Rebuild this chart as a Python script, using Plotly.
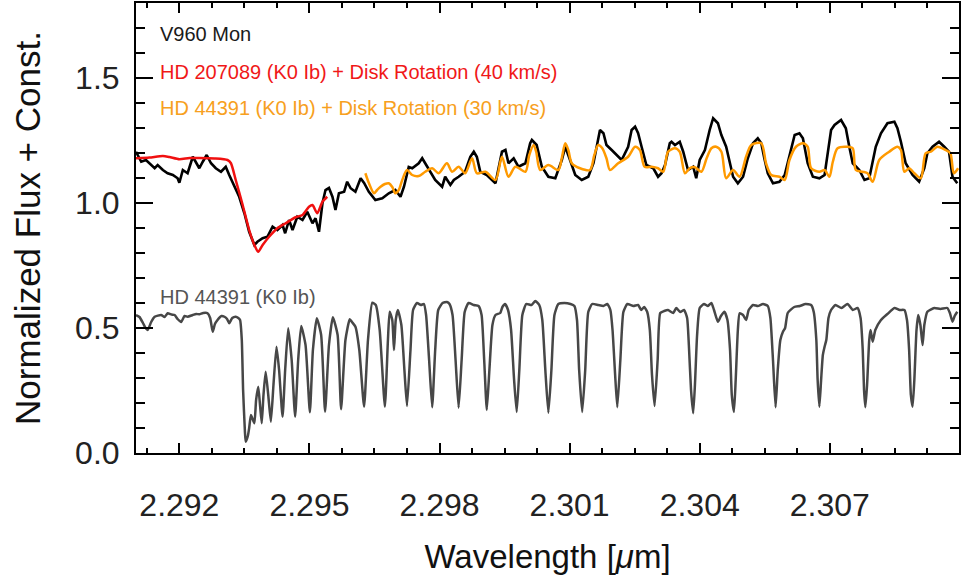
import plotly.graph_objects as go

# ---- V960 Mon (observed) ----
v960_wave = [2.29100, 2.29112, 2.29123, 2.29131, 2.29143, 2.29150, 2.29162, 2.29173, 2.29185, 2.29196,
             2.29200, 2.29208, 2.29219, 2.29231, 2.29238, 2.29246, 2.29254, 2.29263, 2.29273, 2.29284,
             2.29296, 2.29307, 2.29315, 2.29327, 2.29338, 2.29350, 2.29361, 2.29373, 2.29380, 2.29392,
             2.29403, 2.29415, 2.29426, 2.29438, 2.29444, 2.29453, 2.29461, 2.29472, 2.29484, 2.29495,
             2.29507, 2.29514, 2.29522, 2.29530, 2.29537, 2.29545, 2.29553, 2.29560, 2.29568, 2.29580,
             2.29587, 2.29595, 2.29606, 2.29618, 2.29626, 2.29637, 2.29652, 2.29668, 2.29683, 2.29698,
             2.29710, 2.29718, 2.29729, 2.29737, 2.29752, 2.29760, 2.29767, 2.29779, 2.29790, 2.29806,
             2.29813, 2.29825, 2.29833, 2.29844, 2.29859, 2.29871, 2.29879, 2.29886, 2.29894, 2.29909,
             2.29929, 2.29944, 2.29952, 2.29959, 2.29971, 2.29982, 2.29998, 2.30009, 2.30013, 2.30024,
             2.30036, 2.30051, 2.30067, 2.30082, 2.30090, 2.30101, 2.30113, 2.30128, 2.30143, 2.30155,
             2.30170, 2.30178, 2.30185, 2.30197, 2.30208, 2.30220, 2.30235, 2.30243, 2.30251, 2.30258,
             2.30266, 2.30277, 2.30293, 2.30304, 2.30312, 2.30320, 2.30331, 2.30335, 2.30343, 2.30354,
             2.30362, 2.30373, 2.30385, 2.30392, 2.30400, 2.30412, 2.30423, 2.30431, 2.30442, 2.30450,
             2.30461, 2.30469, 2.30477, 2.30488, 2.30500, 2.30511, 2.30523, 2.30534, 2.30542, 2.30549,
             2.30557, 2.30569, 2.30584, 2.30596, 2.30611, 2.30619, 2.30630, 2.30638, 2.30649, 2.30661,
             2.30676, 2.30688, 2.30703, 2.30711, 2.30726, 2.30737, 2.30745, 2.30753, 2.30768, 2.30780,
             2.30791, 2.30806, 2.30818, 2.30833, 2.30849, 2.30856, 2.30864, 2.30875, 2.30891, 2.30906,
             2.30918, 2.30925, 2.30937, 2.30952, 2.30964, 2.30975, 2.30983, 2.30994]
v960_flux = [1.205, 1.165, 1.172, 1.159, 1.139, 1.152, 1.132, 1.119, 1.112, 1.099,
             1.081, 1.132, 1.119, 1.185, 1.165, 1.139, 1.165, 1.192, 1.159, 1.139,
             1.125, 1.145, 1.112, 1.065, 1.025, 0.959, 0.885, 0.832, 0.845, 0.859,
             0.865, 0.905, 0.892, 0.912, 0.879, 0.932, 0.892, 0.945, 0.932, 0.965,
             0.919, 0.939, 0.885, 0.999, 1.052, 1.060, 1.025, 0.972, 1.039, 1.045,
             1.085, 1.059, 1.045, 1.099, 1.080, 1.045, 1.012, 1.019, 1.039, 1.052,
             1.025, 1.065, 1.144, 1.139, 1.159, 1.179, 1.159, 1.125, 1.092, 1.065,
             1.105, 1.072, 1.092, 1.105, 1.125, 1.185, 1.205, 1.185, 1.125, 1.112,
             1.079, 1.205, 1.212, 1.159, 1.179, 1.145, 1.159, 1.239, 1.252, 1.232,
             1.145, 1.105, 1.099, 1.172, 1.225, 1.172, 1.112, 1.092, 1.105, 1.159,
             1.292, 1.279, 1.232, 1.212, 1.192, 1.172, 1.225, 1.292, 1.305, 1.279,
             1.225, 1.152, 1.139, 1.105, 1.119, 1.152, 1.239, 1.245, 1.232, 1.245,
             1.205, 1.132, 1.145, 1.099, 1.172, 1.212, 1.292, 1.339, 1.319, 1.272,
             1.225, 1.159, 1.105, 1.079, 1.105, 1.179, 1.239, 1.259, 1.239, 1.179,
             1.119, 1.079, 1.085, 1.112, 1.225, 1.272, 1.279, 1.259, 1.159, 1.105,
             1.099, 1.112, 1.292, 1.312, 1.332, 1.299, 1.225, 1.159, 1.132, 1.092,
             1.099, 1.225, 1.279, 1.319, 1.325, 1.299, 1.245, 1.159, 1.112, 1.085,
             1.139, 1.199, 1.225, 1.245, 1.225, 1.205, 1.105, 1.079]

# ---- HD 207089 (K0 Ib) + disk rotation 40 km/s ----
hd207_wave = [2.29100, 2.29131, 2.29162, 2.29177, 2.29200, 2.29223, 2.29246, 2.29281, 2.29311, 2.29319,
              2.29330, 2.29346, 2.29361, 2.29373, 2.29382, 2.29392, 2.29407, 2.29426, 2.29445, 2.29468,
              2.29484, 2.29499, 2.29507, 2.29518, 2.29530, 2.29541]
hd207_flux = [1.179, 1.182, 1.188, 1.184, 1.175, 1.180, 1.180, 1.178, 1.172, 1.159,
              1.092, 0.992, 0.892, 0.832, 0.805, 0.832, 0.865, 0.899, 0.919, 0.943,
              0.952, 0.985, 0.992, 0.959, 1.005, 1.025]

# ---- HD 44391 (K0 Ib) + disk rotation 30 km/s ----
hd44_rot_wave = [2.29629, 2.29637, 2.29649, 2.29656, 2.29664, 2.29674, 2.29683, 2.29691, 2.29698, 2.29706,
                 2.29714, 2.29725, 2.29737, 2.29752, 2.29767, 2.29783, 2.29798, 2.29817, 2.29829, 2.29844,
                 2.29859, 2.29875, 2.29886, 2.29906, 2.29929, 2.29944, 2.29959, 2.29975, 2.29998, 2.30007,
                 2.30017, 2.30023, 2.30032, 2.30051, 2.30074, 2.30082, 2.30090, 2.30097, 2.30105, 2.30124,
                 2.30147, 2.30157, 2.30166, 2.30175, 2.30185, 2.30193, 2.30212, 2.30235, 2.30251, 2.30262,
                 2.30273, 2.30289, 2.30304, 2.30316, 2.30327, 2.30343, 2.30354, 2.30366, 2.30377, 2.30389,
                 2.30404, 2.30416, 2.30427, 2.30438, 2.30450, 2.30461, 2.30477, 2.30492, 2.30507, 2.30519,
                 2.30542, 2.30553, 2.30565, 2.30584, 2.30596, 2.30607, 2.30622, 2.30638, 2.30649, 2.30657,
                 2.30676, 2.30688, 2.30699, 2.30707, 2.30718, 2.30741, 2.30753, 2.30760, 2.30776, 2.30787,
                 2.30799, 2.30814, 2.30837, 2.30856, 2.30864, 2.30872, 2.30883, 2.30895, 2.30910, 2.30921,
                 2.30933, 2.30948, 2.30967, 2.30978, 2.30986, 2.30996]
hd44_rot_flux = [1.119, 1.080, 1.039, 1.052, 1.065, 1.076, 1.079, 1.064, 1.039, 1.052,
                 1.092, 1.132, 1.112, 1.108, 1.125, 1.139, 1.119, 1.159, 1.125, 1.145,
                 1.119, 1.179, 1.119, 1.125, 1.092, 1.185, 1.105, 1.145, 1.125, 1.192,
                 1.232, 1.204, 1.132, 1.152, 1.132, 1.180, 1.239, 1.212, 1.159, 1.139,
                 1.132, 1.192, 1.232, 1.220, 1.179, 1.132, 1.159, 1.185, 1.225, 1.212,
                 1.145, 1.145, 1.139, 1.125, 1.205, 1.219, 1.205, 1.119, 1.139, 1.143,
                 1.125, 1.179, 1.219, 1.225, 1.205, 1.099, 1.132, 1.105, 1.185, 1.232,
                 1.239, 1.159, 1.112, 1.105, 1.092, 1.172, 1.225, 1.239, 1.225, 1.139,
                 1.125, 1.132, 1.105, 1.165, 1.219, 1.225, 1.219, 1.132, 1.125, 1.119,
                 1.085, 1.172, 1.205, 1.225, 1.212, 1.125, 1.139, 1.119, 1.099, 1.199,
                 1.205, 1.225, 1.212, 1.199, 1.119, 1.139]

# ---- HD 44391 (K0 Ib) template, offset ----
hd44_wave = [2.29100, 2.29108, 2.29116, 2.29122, 2.29127, 2.29135, 2.29143, 2.29158, 2.29166, 2.29173,
             2.29182, 2.29189, 2.29196, 2.29204, 2.29212, 2.29219, 2.29231, 2.29239, 2.29246, 2.29255,
             2.29265, 2.29271, 2.29277, 2.29282, 2.29288, 2.29297, 2.29304, 2.29310, 2.29315, 2.29322,
             2.29330, 2.29336, 2.29340, 2.29344, 2.29347, 2.29351, 2.29353, 2.29358, 2.29361, 2.29365,
             2.29368, 2.29373, 2.29377, 2.29382, 2.29386, 2.29390, 2.29394, 2.29399, 2.29405, 2.29411,
             2.29417, 2.29424, 2.29430, 2.29438, 2.29444, 2.29451, 2.29459, 2.29467, 2.29474, 2.29481,
             2.29491, 2.29501, 2.29508, 2.29517, 2.29527, 2.29536, 2.29545, 2.29554, 2.29565, 2.29573,
             2.29583, 2.29593, 2.29598, 2.29606, 2.29615, 2.29626, 2.29635, 2.29645, 2.29653, 2.29662,
             2.29674, 2.29681, 2.29685, 2.29691, 2.29695, 2.29699, 2.29704, 2.29712, 2.29719, 2.29725,
             2.29733, 2.29739, 2.29748, 2.29757, 2.29764, 2.29769, 2.29776, 2.29783, 2.29790, 2.29797,
             2.29807, 2.29817, 2.29823, 2.29830, 2.29837, 2.29844, 2.29851, 2.29858, 2.29867, 2.29879,
             2.29890, 2.29897, 2.29903, 2.29909, 2.29915, 2.29922, 2.29929, 2.29940, 2.29945, 2.29951,
             2.29958, 2.29965, 2.29972, 2.29978, 2.29984, 2.29991, 2.30000, 2.30012, 2.30021, 2.30030,
             2.30037, 2.30044, 2.30051, 2.30058, 2.30065, 2.30074, 2.30088, 2.30102, 2.30111, 2.30117,
             2.30122, 2.30129, 2.30136, 2.30143, 2.30152, 2.30166, 2.30178, 2.30187, 2.30194, 2.30199,
             2.30205, 2.30210, 2.30217, 2.30224, 2.30233, 2.30247, 2.30258, 2.30265, 2.30272, 2.30279,
             2.30285, 2.30290, 2.30296, 2.30303, 2.30309, 2.30318, 2.30327, 2.30339, 2.30346, 2.30355,
             2.30364, 2.30371, 2.30375, 2.30380, 2.30385, 2.30389, 2.30394, 2.30400, 2.30410, 2.30419,
             2.30427, 2.30433, 2.30442, 2.30449, 2.30457, 2.30464, 2.30470, 2.30474, 2.30479, 2.30483,
             2.30488, 2.30492, 2.30500, 2.30507, 2.30513, 2.30523, 2.30534, 2.30546, 2.30557, 2.30563,
             2.30569, 2.30575, 2.30580, 2.30586, 2.30592, 2.30597, 2.30603, 2.30618, 2.30631, 2.30644,
             2.30657, 2.30663, 2.30669, 2.30672, 2.30676, 2.30680, 2.30684, 2.30688, 2.30692, 2.30697,
             2.30703, 2.30713, 2.30727, 2.30741, 2.30753, 2.30764, 2.30771, 2.30776, 2.30779, 2.30782,
             2.30786, 2.30791, 2.30794, 2.30799, 2.30805, 2.30818, 2.30833, 2.30849, 2.30861, 2.30872,
             2.30878, 2.30883, 2.30887, 2.30891, 2.30895, 2.30900, 2.30904, 2.30909, 2.30914, 2.30918,
             2.30925, 2.30941, 2.30955, 2.30971, 2.30977, 2.30983, 2.30988, 2.30994]
hd44_flux = [0.552, 0.544, 0.520, 0.500, 0.492, 0.524, 0.545, 0.552, 0.544, 0.559,
             0.554, 0.552, 0.536, 0.524, 0.548, 0.545, 0.552, 0.556, 0.555, 0.560,
             0.559, 0.540, 0.485, 0.516, 0.532, 0.548, 0.545, 0.536, 0.519, 0.540,
             0.545, 0.540, 0.532, 0.452, 0.252, 0.092, 0.045, 0.068, 0.100, 0.152,
             0.140, 0.119, 0.212, 0.265, 0.192, 0.119, 0.232, 0.325, 0.232, 0.125,
             0.272, 0.425, 0.332, 0.145, 0.332, 0.499, 0.372, 0.145, 0.372, 0.508,
             0.432, 0.163, 0.412, 0.539, 0.472, 0.165, 0.432, 0.543, 0.472, 0.175,
             0.452, 0.535, 0.524, 0.505, 0.412, 0.185, 0.452, 0.601, 0.592, 0.492,
             0.185, 0.452, 0.565, 0.532, 0.412, 0.532, 0.572, 0.512, 0.332, 0.188,
             0.412, 0.572, 0.600, 0.592, 0.596, 0.552, 0.372, 0.183, 0.412, 0.572,
             0.600, 0.604, 0.596, 0.552, 0.372, 0.181, 0.372, 0.564, 0.600, 0.592,
             0.588, 0.552, 0.372, 0.172, 0.332, 0.512, 0.552, 0.560, 0.584, 0.596,
             0.572, 0.492, 0.292, 0.164, 0.332, 0.552, 0.596, 0.592, 0.608, 0.592,
             0.532, 0.332, 0.161, 0.332, 0.552, 0.596, 0.600, 0.596, 0.588, 0.532,
             0.332, 0.164, 0.332, 0.564, 0.596, 0.592, 0.588, 0.596, 0.572, 0.492,
             0.312, 0.183, 0.372, 0.564, 0.596, 0.588, 0.592, 0.572, 0.584, 0.564,
             0.492, 0.312, 0.188, 0.372, 0.560, 0.568, 0.572, 0.560, 0.580, 0.564,
             0.572, 0.540, 0.432, 0.252, 0.159, 0.272, 0.472, 0.580, 0.596, 0.588,
             0.600, 0.572, 0.525, 0.548, 0.565, 0.532, 0.412, 0.232, 0.164, 0.292,
             0.492, 0.559, 0.552, 0.532, 0.572, 0.592, 0.588, 0.596, 0.588, 0.540,
             0.372, 0.183, 0.332, 0.452, 0.485, 0.500, 0.560, 0.584, 0.588, 0.596,
             0.592, 0.564, 0.452, 0.292, 0.185, 0.292, 0.392, 0.425, 0.452, 0.540,
             0.572, 0.592, 0.580, 0.596, 0.572, 0.580, 0.540, 0.412, 0.252, 0.183,
             0.272, 0.452, 0.492, 0.445, 0.492, 0.532, 0.556, 0.580, 0.572, 0.572,
             0.532, 0.412, 0.232, 0.185, 0.292, 0.492, 0.552, 0.512, 0.432, 0.512,
             0.565, 0.580, 0.576, 0.580, 0.560, 0.525, 0.548, 0.565]

# ---- labels ----
label_texts = ["V960 Mon",
               "HD 207089 (K0 Ib) + Disk Rotation (40 km/s)",
               "HD 44391 (K0 Ib) + Disk Rotation (30 km/s)",
               "HD 44391 (K0 Ib)"]
label_x = [2.2915, 2.2915, 2.2915, 2.2915]
label_y = [1.676, 1.524, 1.380, 0.624]

C_BLACK = "#000000"
C_RED = "#f01010"
C_ORANGE = "#ff9a00"
C_GRAY = "#474747"
label_colors = ["#1a1a1a", "#f01818", "#f7a020", "#555555"]

FONT = "Liberation Sans, Arial, Helvetica, sans-serif"

fig = go.Figure()
fig.add_trace(go.Scatter(x=hd44_wave, y=hd44_flux, mode="lines",
                         line=dict(color=C_GRAY, width=2.5, shape="spline", smoothing=0.5),
                         showlegend=False))
fig.add_trace(go.Scatter(x=v960_wave, y=v960_flux, mode="lines",
                         line=dict(color=C_BLACK, width=2.6), showlegend=False))
fig.add_trace(go.Scatter(x=hd207_wave, y=hd207_flux, mode="lines",
                         line=dict(color=C_RED, width=2.5, shape="spline", smoothing=0.6),
                         showlegend=False))
fig.add_trace(go.Scatter(x=hd44_rot_wave, y=hd44_rot_flux, mode="lines",
                         line=dict(color=C_ORANGE, width=2.5, shape="spline", smoothing=0.8),
                         showlegend=False))

for t, x, y, c in zip(label_texts, label_x, label_y, label_colors):
    fig.add_annotation(x=x, y=y, xref="x", yref="y", text=t, showarrow=False,
                       xanchor="left", yanchor="middle",
                       font=dict(family=FONT, size=20, color=c))

fig.update_xaxes(range=[2.291, 2.30998], showgrid=False, zeroline=False,
                 showline=True, linecolor="black", linewidth=2, mirror="allticks",
                 ticks="inside", ticklen=10, tickwidth=1.5, tickcolor="black",
                 tick0=2.292, dtick=0.003, tickformat=".3f",
                 minor=dict(ticks="inside", ticklen=5, tickwidth=1.5, tickcolor="black",
                            tick0=2.292, dtick=0.00075, showgrid=False),
                 tickfont=dict(family=FONT, size=32, color="#222222"),
                 ticklabelstandoff=23,
                 title=dict(text="Wavelength [<i>μ</i>m]", standoff=22,
                            font=dict(family=FONT, size=33, color="#111111")))
fig.update_yaxes(range=[0, 1.8], showgrid=False, zeroline=False,
                 showline=True, linecolor="black", linewidth=2, mirror="allticks",
                 ticks="inside", ticklen=17, tickwidth=1.5, tickcolor="black",
                 tick0=0, dtick=0.5, tickformat=".1f",
                 minor=dict(ticks="inside", ticklen=9, tickwidth=1.5, tickcolor="black",
                            tick0=0, dtick=0.1, showgrid=False),
                 tickfont=dict(family=FONT, size=32, color="#222222"),
                 ticklabelstandoff=8,
                 title=dict(text="Normalized Flux + Const.", standoff=24,
                            font=dict(family=FONT, size=35, color="#111111")))

fig.update_layout(width=961, height=584, margin=dict(l=136, r=0, t=3, b=131),
                  plot_bgcolor="white", paper_bgcolor="white", showlegend=False)

fig.write_html("out.html")
